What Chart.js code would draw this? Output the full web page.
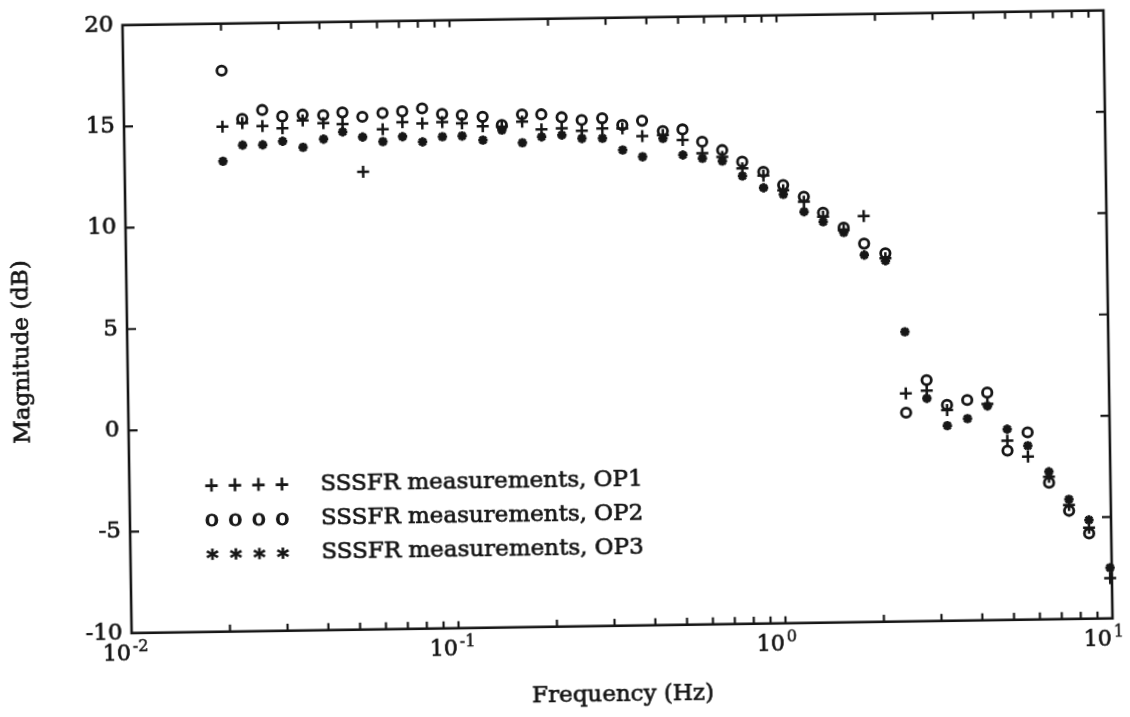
<!DOCTYPE html>
<html>
<head>
<meta charset="utf-8">
<script src="https://cdn.jsdelivr.net/npm/chart.js@4/dist/chart.umd.min.js"></script>
<style>
  html, body { margin: 0; padding: 0; background: #fff; }
  #wrap { position: relative; width: 1130px; height: 717px; overflow: hidden; background: #fff; }
  #plot { position: absolute; left: 0; top: 0; transform-origin: 617.5px 321.75px; transform: rotate(-0.86deg); }
</style>
</head>
<body>
<div id="wrap"><canvas id="plot" width="1130" height="717"></canvas></div>
<script>
// Measurement frequencies (Hz)
const frequencies = [
  0.0200, 0.0230, 0.0265, 0.0305, 0.0352, 0.0407, 0.0466, 0.0536, 0.0618, 0.0710,
  0.0817, 0.0940, 0.108, 0.125, 0.143, 0.165, 0.189, 0.218, 0.251, 0.290,
  0.334, 0.384, 0.444, 0.510, 0.585, 0.673, 0.774, 0.897, 1.03, 1.19,
  1.36, 1.57, 1.81, 2.10, 2.39, 2.77, 3.19, 3.68, 4.24, 4.86,
  5.61, 6.49, 7.45, 8.56, 9.88
];

// Magnitude (dB) per operating point
const magnitudeOP1 = [
  14.92, 15.08, 14.92, 14.80, 15.16, 15.02, 14.96, 12.59, 14.67, 15.00,
  14.93, 14.98, 14.90, 14.75, 14.71, 14.94, 14.55, 14.58, 14.45, 14.55,
  14.54, 14.14, 14.18, 13.92, 13.25, 13.06, 12.48, 12.10, 11.37, 10.78,
  10.03, 9.36, 10.03, 7.93, 1.25, 1.37, 0.40, null, 0.67, -1.16,
  -1.96, -2.97, -4.38, -5.51, -8.01
];
const magnitudeOP2 = [
  17.68, 15.28, 15.71, 15.38, 15.45, 15.41, 15.53, 15.30, 15.47, 15.54,
  15.67, 15.38, 15.31, 15.21, 14.79, 15.30, 15.29, 15.13, 14.98, 15.05,
  14.70, 14.90, 14.37, 14.44, 13.82, 13.39, 12.80, 12.29, 11.62, 11.03,
  10.23, 9.47, 8.67, 8.18, 0.30, 1.89, 0.65, 0.88, 1.23, -1.65,
  -0.76, -3.26, -4.66, -5.79, null
];
const magnitudeOP3 = [
  13.21, 13.99, 13.99, 14.15, 13.84, 14.23, 14.57, 14.30, 14.06, 14.29,
  14.02, 14.26, 14.28, 14.06, 14.54, 13.90, 14.18, 14.25, 14.07, 14.06,
  13.47, 13.12, 14.01, 13.18, 13.00, 12.85, 12.10, 11.50, 11.16, 10.29,
  9.78, 9.24, 8.11, 7.81, 4.29, 0.99, -0.37, -0.04, 0.57, -0.59,
  -1.42, -2.72, -4.10, -5.13, -7.50
];

const seriesLabels = [
  'SSSFR measurements, OP1',
  'SSSFR measurements, OP2',
  'SSSFR measurements, OP3'
];
const seriesGlyphs = ['+', 'o', '*'];

// Axis ticks: decade labels are drawn as base "10" plus a raised exponent
const xTicks = [0.01, 0.1, 1, 10];
const xTickBase = ['10', '10', '10', '10'];
const xTickExponents = ['-2', '-1', '0', '1'];
const yTicks = [-10, -5, 0, 5, 10, 15, 20];
const yTickLabels = ['-10', '-5', '0', '5', '10', '15', '20'];
const xTitle = 'Frequency (Hz)';
const yTitle = 'Magnitude (dB)';

const INK = '#161616';
const FONT = "'DejaVu Serif', 'Liberation Serif', serif";

// minor decade ticks 2..9 for the log axis
const xMinorTicks = [];
for (let d = 0; d < xTicks.length - 1; d++) {
  for (let m = 2; m <= 9; m++) xMinorTicks.push(xTicks[d] * m);
}

const toPoints = arr => frequencies.map((f, i) => ({ x: f, y: arr[i] }));

// filled text with a thin outline, giving the heavier print weight
function inkText(ctx, text, x, y, w) {
  ctx.fillText(text, x, y);
  ctx.lineWidth = w;
  ctx.strokeText(text, x, y);
}

// Box frame with inward tick marks on all four sides
const frameTicks = {
  id: 'frameTicks',
  beforeDatasetsDraw(chart) {
    const { ctx, chartArea: a, scales: { x, y } } = chart;
    ctx.save();
    ctx.strokeStyle = INK;
    ctx.lineWidth = 2.6;
    ctx.strokeRect(a.left, a.top, a.right - a.left, a.bottom - a.top);
    ctx.lineWidth = 2.2;
    ctx.beginPath();
    xTicks.concat(xMinorTicks).forEach(v => {
      const px = x.getPixelForValue(v);
      if (px <= a.left + 1 || px >= a.right - 1) return;
      ctx.moveTo(px, a.bottom); ctx.lineTo(px, a.bottom - 7);
      ctx.moveTo(px, a.top); ctx.lineTo(px, a.top + 7);
    });
    yTicks.forEach(v => {
      const py = y.getPixelForValue(v);
      if (py <= a.top + 1 || py >= a.bottom - 1) return;
      ctx.moveTo(a.left, py); ctx.lineTo(a.left + 9, py);
      ctx.moveTo(a.right, py); ctx.lineTo(a.right - 9, py);
    });
    ctx.stroke();
    ctx.restore();
  }
};

// glyph size used for each legend symbol
const glyphFont = { '+': 18, 'o': 23, '*': 23 };
const glyphShift = { '+': 0, 'o': 0, '*': 6 };

// Decade tick labels, axis titles and the glyph legend inside the plot
const annotations = {
  id: 'annotations',
  afterDraw(chart) {
    const { ctx, chartArea: a, scales: { x } } = chart;
    ctx.save();
    ctx.fillStyle = INK;
    ctx.strokeStyle = INK;
    ctx.textBaseline = 'alphabetic';
    xTicks.forEach((v, i) => {
      const px = x.getPixelForValue(v);
      const baseY = a.bottom + 27;
      ctx.font = '22px ' + FONT;
      ctx.textAlign = 'right';
      inkText(ctx, xTickBase[i], px - 1, baseY, 0.7);
      ctx.font = '16px ' + FONT;
      ctx.textAlign = 'left';
      inkText(ctx, xTickExponents[i], px + 1, baseY - 9, 0.5);
    });

    ctx.font = '23px ' + FONT;
    ctx.textAlign = 'center';
    ctx.textBaseline = 'middle';
    inkText(ctx, xTitle, (a.left + a.right) / 2, 695, 0.7);
    ctx.save();
    ctx.translate(22, 343);
    ctx.rotate(-Math.PI / 2);
    inkText(ctx, yTitle, 0, 0, 0.7);
    ctx.restore();

    chart.data.datasets.forEach((ds, i) => {
      const rowY = 480 + i * 34;
      ctx.textAlign = 'center';
      ctx.font = glyphFont[ds.glyph] + 'px ' + FONT;
      for (let k = 0; k < 4; k++) {
        inkText(ctx, ds.glyph, 209 + k * 23.5, rowY + glyphShift[ds.glyph], 1.2);
      }
      ctx.textAlign = 'left';
      ctx.font = '23px ' + FONT;
      inkText(ctx, ds.label, 318, rowY, 0.7);
    });
    ctx.restore();
  }
};

const common = {
  showLine: false,
  clip: false,
  borderColor: INK,
  backgroundColor: 'rgba(0,0,0,0)',
  pointBorderColor: INK,
  pointBackgroundColor: 'rgba(0,0,0,0)'
};

new Chart(document.getElementById('plot'), {
  type: 'scatter',
  data: {
    datasets: [
      Object.assign({ label: seriesLabels[0], glyph: seriesGlyphs[0], data: toPoints(magnitudeOP1),
        pointStyle: 'cross', pointRadius: 6, pointBorderWidth: 2.5 }, common),
      Object.assign({ label: seriesLabels[1], glyph: seriesGlyphs[1], data: toPoints(magnitudeOP2),
        pointStyle: 'circle', pointRadius: 4.7, pointBorderWidth: 2.8 }, common),
      Object.assign({ label: seriesLabels[2], glyph: seriesGlyphs[2], data: toPoints(magnitudeOP3),
        pointStyle: 'star', pointRadius: 4.7, pointBorderWidth: 2.8 }, common)
    ]
  },
  options: {
    responsive: false,
    animation: false,
    events: [],
    layout: { padding: { top: 17.75, right: 22, left: 0, bottom: 0 } },
    plugins: { legend: { display: false }, tooltip: { enabled: false } },
    scales: {
      x: {
        type: 'logarithmic',
        position: 'bottom',
        min: 0.01,
        max: 10,
        grid: { display: false, drawTicks: false },
        border: { display: false },
        ticks: { display: false },
        afterBuildTicks: s => { s.ticks = xTicks.map(v => ({ value: v })); },
        afterFit: s => { s.height = 91.25; s.paddingLeft = 0; s.paddingRight = 0; }
      },
      y: {
        type: 'linear',
        min: -10,
        max: 20,
        grid: { display: false, drawTicks: false },
        border: { display: false },
        ticks: {
          padding: 9,
          color: INK,
          textStrokeColor: INK,
          textStrokeWidth: 0.7,
          font: { family: FONT, size: 23 },
          callback: v => {
            const i = yTicks.indexOf(v);
            return i >= 0 ? yTickLabels[i] : '';
          }
        },
        afterBuildTicks: s => { s.ticks = yTicks.map(v => ({ value: v })); },
        afterFit: s => { s.width = 127; s.paddingTop = 0; s.paddingBottom = 0; }
      }
    }
  },
  plugins: [frameTicks, annotations]
});
</script>
</body>
</html>
